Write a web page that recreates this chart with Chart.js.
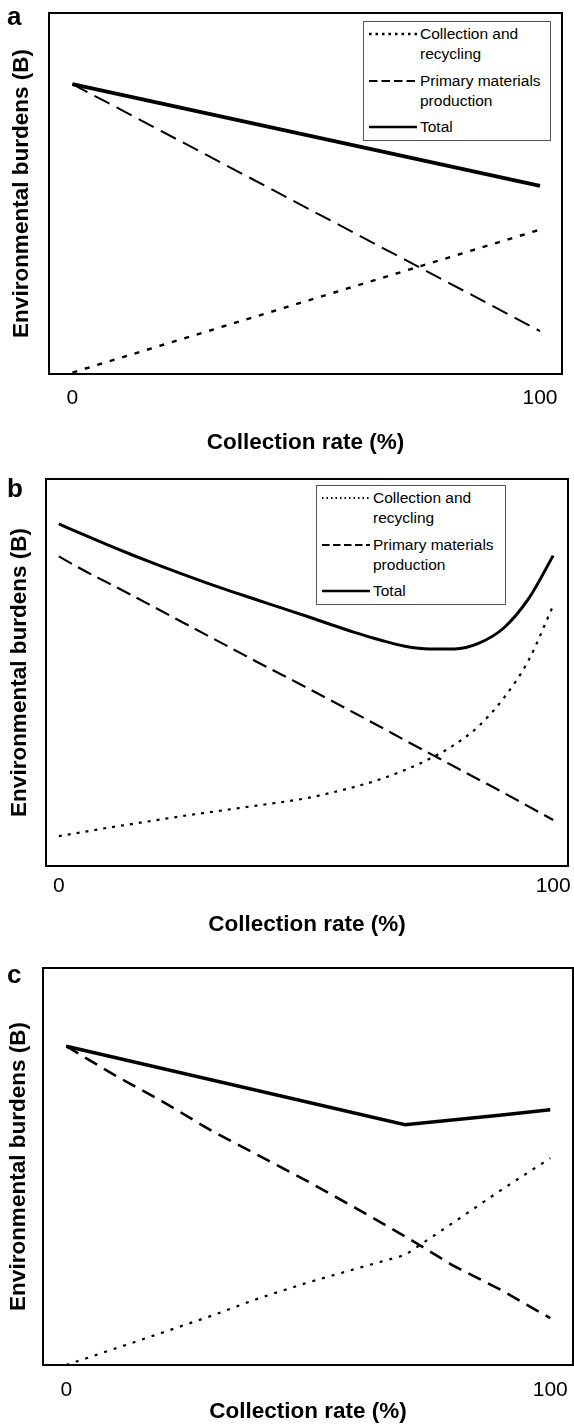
<!DOCTYPE html>
<html>
<head>
<meta charset="utf-8">
<title>Environmental burdens vs collection rate</title>
<script src="https://cdn.jsdelivr.net/npm/chart.js@4.4.1/dist/chart.umd.min.js"></script>
<style>
  body { margin: 0; background: #fff; font-family: "Liberation Sans", Arial, sans-serif; }
  .panel { position: absolute; left: 0; width: 574px; }
  .legend {
    position: absolute; box-sizing: border-box; background: #fff;
    border: 1px solid #555; padding: 2px 0 4px 0; font-size: 15.5px; color: #000;
  }
  .legend .item { display: flex; align-items: flex-start; margin-top: 6.7px; }
  .legend .item:first-child { margin-top: 0; }
  .legend svg { flex: none; margin: 0 3px 0 5px; }
  .legend .txt { line-height: 20px; white-space: nowrap; }
</style>
</head>
<body>
<div class="panel" style="top:0;height:470px"><canvas id="chartA" width="574" height="470"></canvas></div>
<div class="panel" style="top:470px;height:480px"><canvas id="chartB" width="574" height="480"></canvas></div>
<div class="panel" style="top:950px;height:476px"><canvas id="chartC" width="574" height="476"></canvas></div>
<div class="legend" id="legendA" style="left:363px;top:21px;width:188px;height:120px"></div>
<div class="legend" id="legendB" style="left:316px;top:485px;width:190px;height:120px"></div>

<script>
  // labels
  const seriesNames = [['Collection and', 'recycling'], ['Primary materials', 'production'], ['Total']];
  const xTitle = 'Collection rate (%)';
  const yTitle = 'Environmental burdens (B)';
  const xTicks = [0, 100];

  // panel a (burden values in % of the plotted height)
  const xA = [0, 100];
  const collectA = [0.4, 40.0];
  const primaryA = [80.3, 11.9];
  const totalA = [80.3, 52.1];

  // panel b
  const xB = [0, 5, 10, 15, 20, 25, 30, 35, 40, 45, 50, 55, 60, 65, 70, 75, 80, 85, 90, 95, 100];
  const collectB = [7.7, 8.8, 9.9, 10.9, 11.9, 12.9, 13.8, 14.7, 15.6, 16.5, 17.5, 18.9, 20.5, 22.4, 24.8, 27.7, 31.3, 36.2, 43.4, 53.1, 67.3];
  const primaryB = [80.0, 76.4, 73.1, 69.8, 66.4, 63.0, 59.6, 56.2, 52.8, 49.5, 46.2, 42.8, 39.4, 36.0, 32.5, 29.1, 25.7, 22.3, 18.9, 15.4, 11.9];
  const totalB = [88.4, 85.6, 82.9, 80.3, 77.8, 75.4, 73.1, 70.9, 68.8, 66.7, 64.6, 62.4, 60.3, 58.4, 56.8, 56.1, 56.1, 57.6, 61.5, 69.0, 80.2];

  // panel c
  const xC = [0, 10, 20, 30, 40, 50, 60, 70, 80, 90, 100];
  const collectC = [0, 4.1, 8.2, 12.4, 16.9, 20.8, 24.3, 27.7, 35.9, 44.2, 52.1];
  const primaryC = [80.3, 73.0, 66.3, 59.0, 52.6, 46.2, 39.4, 32.4, 25.0, 18.8, 11.8];
  const xTotalC = [0, 70, 90, 100];
  const totalC = [80.3, 60.5, 63.0, 64.3];

  const family = '"Liberation Sans", Arial, sans-serif';
  const toPoints = (xs, ys) => xs.map((x, i) => ({ x, y: ys[i] }));

  // box round the plot area + panel letter
  const framePlugin = {
    id: 'frame',
    afterDraw(chart, args, opts) {
      const { ctx, chartArea: a } = chart;
      ctx.save();
      ctx.strokeStyle = '#000';
      ctx.lineWidth = 2;
      ctx.strokeRect(a.left, a.top, a.right - a.left, a.bottom - a.top);
      ctx.fillStyle = '#000';
      ctx.font = 'bold 26px ' + family;
      ctx.textBaseline = 'alphabetic';
      ctx.fillText(opts.tag, 7, opts.tagY);
      ctx.restore();
    }
  };

  function makePanel(id, sets, cfg) {
    const styles = cfg.styles;
    return new Chart(document.getElementById(id), {
      type: 'line',
      data: {
        datasets: sets.map((pts, i) => ({
          label: seriesNames[i],
          data: pts,
          borderColor: '#000',
          borderWidth: styles[i].w,
          borderDash: styles[i].dash,
          pointRadius: 0,
          tension: 0,
          cubicInterpolationMode: cfg.smooth ? 'monotone' : 'default',
          fill: false,
        })),
      },
      options: {
        responsive: false,
        animation: false,
        layout: { padding: { top: cfg.top, right: cfg.right, left: 0, bottom: 0 } },
        plugins: {
          legend: { display: false },
          tooltip: { enabled: false },
          frame: { tag: cfg.tag, tagY: cfg.tagY },
        },
        scales: {
          x: {
            type: 'linear',
            min: cfg.xMin,
            max: cfg.xMax,
            grid: { display: false },
            border: { display: false },
            afterBuildTicks: axis => { axis.ticks = xTicks.map(v => ({ value: v })); },
            afterFit: axis => { axis.height = cfg.xHeight; },
            ticks: { color: '#000', font: { size: 21, family }, padding: cfg.tickPad, maxRotation: 0, autoSkip: false },
            title: {
              display: true, text: xTitle, color: '#000',
              font: { size: 22.5, weight: 'bold', family },
              padding: { top: 0, bottom: cfg.xTitlePad },
            },
          },
          y: {
            min: 0,
            max: 100,
            grid: { display: false },
            border: { display: false },
            ticks: { display: false },
            afterFit: axis => { axis.width = cfg.yWidth; },
            title: {
              display: true, text: yTitle, color: '#000',
              font: { size: 22.5, weight: 'bold', family },
              padding: { top: cfg.yTitlePad, bottom: 0 },
            },
          },
        },
      },
      plugins: [framePlugin],
    });
  }

  function buildLegend(chart, el) {
    chart.data.datasets.forEach(ds => {
      const item = document.createElement('div');
      item.className = 'item';
      const dash = (ds.borderDash || []).map(v => v / 2).join(' ');
      item.innerHTML = '<svg width="48" height="20"><line x1="0" y1="10" x2="48" y2="10" stroke="#000" stroke-width="' +
        Math.min(ds.borderWidth, 2.5) + '"' + (dash ? ' stroke-dasharray="' + dash + '"' : '') + '/></svg>';
      const txt = document.createElement('div');
      txt.className = 'txt';
      txt.innerHTML = ds.label.join('<br>');
      item.appendChild(txt);
      el.appendChild(item);
    });
  }

  const chartA = makePanel('chartA',
    [toPoints(xA, collectA), toPoints(xA, primaryA), toPoints(xA, totalA)], {
      tag: 'a', tagY: 25, top: 13, right: 12, xHeight: 96, yWidth: 49,
      xMin: -5.0, xMax: 104.7, tickPad: 3.5, xTitlePad: 13.5, yTitlePad: 8.5,
      styles: [{ w: 2.4, dash: [5, 8] }, { w: 2, dash: [17, 8] }, { w: 4, dash: [] }],
    });

  const chartB = makePanel('chartB',
    [toPoints(xB, collectB), toPoints(xB, primaryB), toPoints(xB, totalB)], {
      tag: 'b', tagY: 27, top: 9, right: 6, xHeight: 84, yWidth: 46, smooth: true,
      xMin: -2.6, xMax: 103.0, tickPad: 0, xTitlePad: 11.5, yTitlePad: 6,
      styles: [{ w: 2.2, dash: [3, 6] }, { w: 2.2, dash: [15, 7] }, { w: 3, dash: [] }],
    });

  const chartC = makePanel('chartC',
    [toPoints(xC, collectC), toPoints(xC, primaryC), toPoints(xTotalC, totalC)], {
      tag: 'c', tagY: 33, top: 18, right: 1, xHeight: 61, yWidth: 43,
      xMin: -4.8, xMax: 104.7, tickPad: 5, xTitlePad: 1, yTitlePad: 5.5,
      styles: [{ w: 2.2, dash: [3, 7] }, { w: 2.6, dash: [14, 8] }, { w: 3.5, dash: [] }],
    });

  buildLegend(chartA, document.getElementById('legendA'));
  buildLegend(chartB, document.getElementById('legendB'));
</script>
</body>
</html>
